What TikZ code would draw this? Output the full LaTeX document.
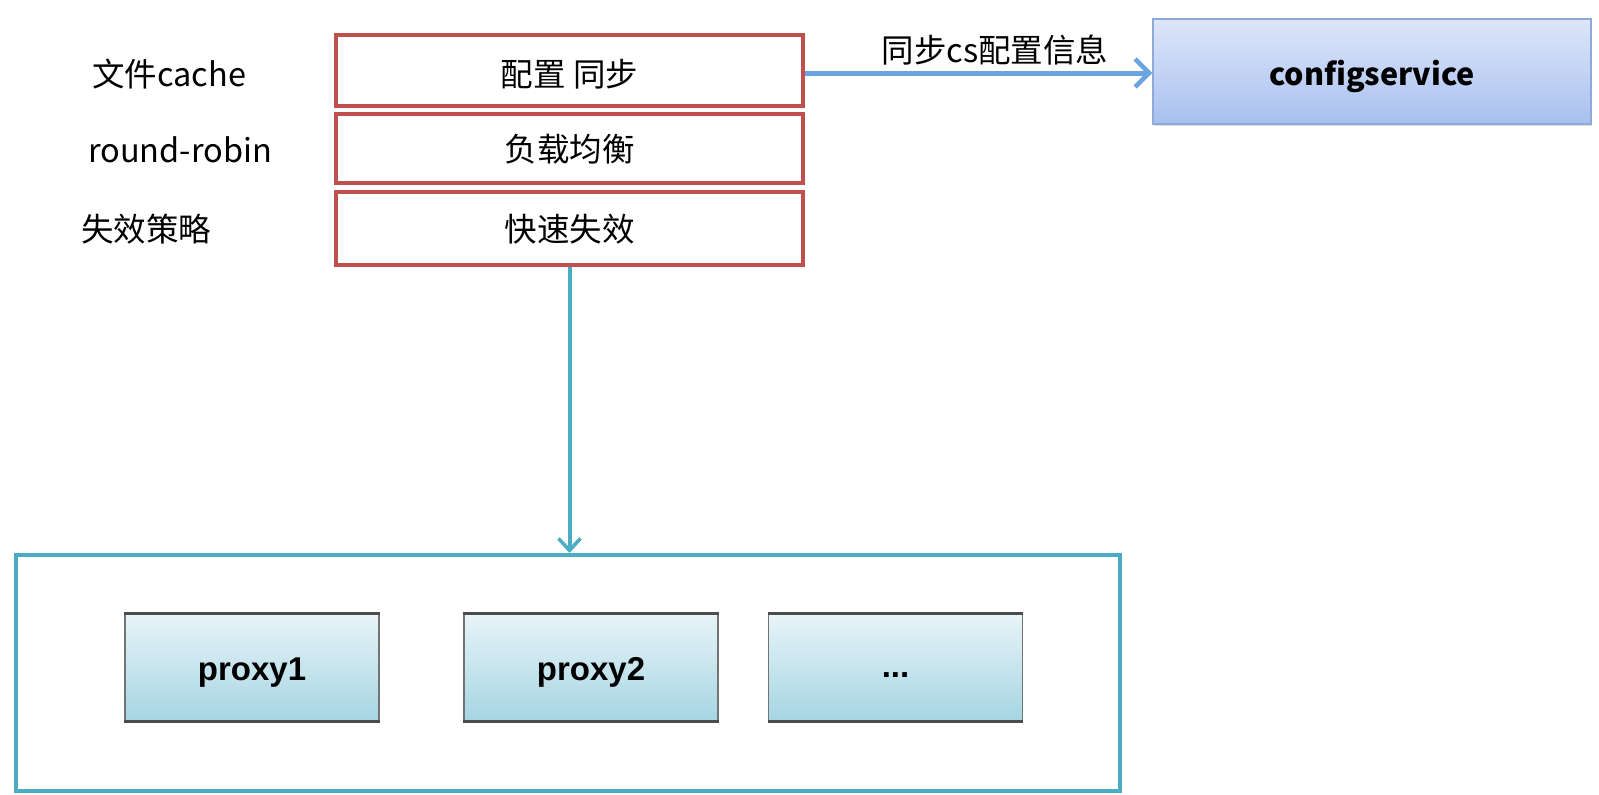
\documentclass[tikz,border=0pt]{standalone}
\usepackage{fontspec}
\setmainfont{Noto Sans CJK SC}
\newfontfamily\proxyfont{Liberation Sans}
\usetikzlibrary{arrows.meta,shadows}
\definecolor{redline}{HTML}{C0504D}
\definecolor{teal}{HTML}{4BACC6}
\definecolor{arrblue}{HTML}{6AA5E2}
\definecolor{cfgtop}{HTML}{DDE6F9}
\definecolor{cfgbot}{HTML}{A8C0EF}
\definecolor{cfgdraw}{HTML}{8FA9D8}
\definecolor{pxtop}{HTML}{E8F4F8}
\definecolor{pxbot}{HTML}{A5D5E2}
\newcommand{\lowerby}[2]{\raisebox{-#1}[\height][\depth]{#2}}
\tikzset{
  txt/.style={font=\fontsize{32.5}{38}\selectfont, inner sep=0pt},
  redbox/.style={draw=redline, line width=4pt, minimum width=467pt, font=\fontsize{32.5}{38}\selectfont, inner sep=0pt},
  cfgbox/.style={draw=cfgdraw, line width=1.5pt, top color=cfgtop, bottom color=cfgbot, minimum width=438pt, minimum height=105pt, inner sep=0pt, font=\bfseries\fontsize{30.5}{36}\selectfont, drop shadow={opacity=0.25, shadow xshift=1pt, shadow yshift=-2pt}},
  contbox/.style={draw=teal, line width=4pt, minimum width=1104pt, minimum height=236pt},
  pxbox/.style={draw=black!55, line width=1.5pt, top color=pxtop, bottom color=pxbot, minimum width=254pt, minimum height=107pt, inner sep=0pt, font=\proxyfont\bfseries\fontsize{33}{38}\selectfont, drop shadow={opacity=0.3, shadow xshift=0pt, shadow yshift=-2pt}},
  pxedge/.style={draw=black!70, line width=3pt},
  bluearrow/.style={draw=arrblue, line width=5pt, -{Straight Barb[length=14pt, width=28pt, line width=4.5pt]}},
  tealarrow/.style={draw=teal, line width=4pt, -{Straight Barb[length=12pt, width=22pt, line width=3.5pt]}},
}
\begin{document}
\begin{tikzpicture}[x=1pt, y=-1pt]
\useasboundingbox (0,0) rectangle (1599,795);
% red stack
\node[redbox, minimum height=71pt] (b1) at (569.5,70.5) {\lowerby{4pt}{配置 同步}};
\node[redbox, minimum height=69pt] (b2) at (569.5,148.5) {\lowerby{1pt}{负载均衡}};
\node[redbox, minimum height=73pt] (b3) at (569.5,228.5) {\lowerby{1pt}{快速失效}};
% side labels
\node[txt, anchor=west] (l1) at (92,74) {文件cache};
\node[txt, anchor=west] (l2) at (88,150) {round-robin};
\node[txt, anchor=west] (l3) at (81,229) {失效策略};
% configservice
\node[cfgbox] (cfg) at (1372,71.5) {\lowerby{5pt}{configservice}};
\draw[bluearrow] (b1.east |- 0,73) -- (cfg.west |- 0,73);
\node[txt] (lbl) at (995,50) {同步cs配置信息};
% container
\node[contbox] (cont) at (568,673) {};
\draw[tealarrow] (b3.south) -- (b3.south |- cont.north);
% proxies
\node[pxbox] (p1) at (252,667.5) {\lowerby{5pt}{proxy1}};
\node[pxbox] (p2) at (591,667.5) {\lowerby{5pt}{proxy2}};
\node[pxbox] (p3) at (895.5,667.5) {\lowerby{8pt}{...}};
\foreach \p in {p1,p2,p3}{
  \draw[pxedge] (\p.north west) -- (\p.north east);
  \draw[pxedge] (\p.south west) -- (\p.south east);
}
\end{tikzpicture}
\end{document}
